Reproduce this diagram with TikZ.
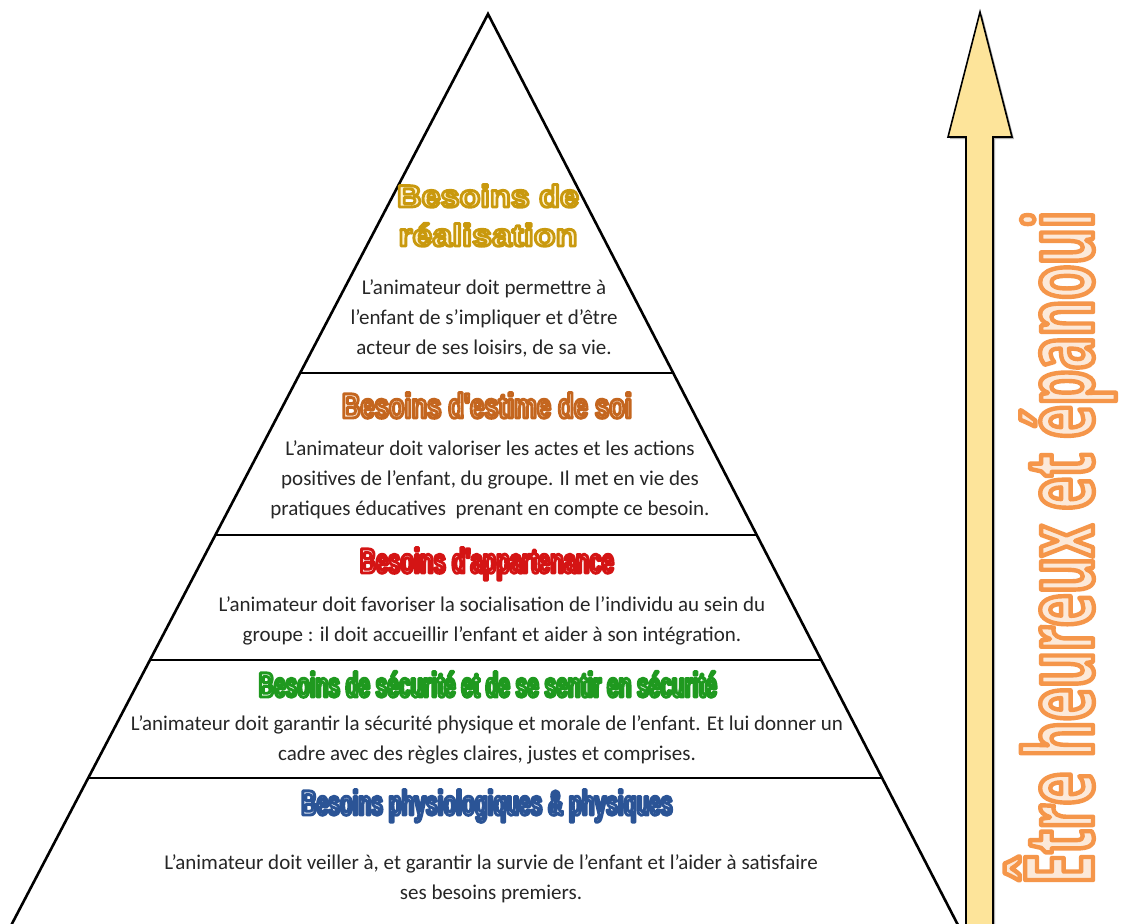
\documentclass[tikz,border=0pt]{standalone}
\usepackage{fontspec}
\setmainfont{Carlito}
\newfontfamily\titlefont{Liberation Sans}
\newfontfamily\vfont{Open Sans}
\usetikzlibrary{calc}
\definecolor{goldF}{HTML}{FFF3CF}
\definecolor{brownF}{HTML}{FBE6D3}
\definecolor{redF}{HTML}{FDE0E0}
\definecolor{greenF}{HTML}{E2F4E2}
\definecolor{blueF}{HTML}{E1E9F6}
\definecolor{vF}{HTML}{FCE9D9}
\definecolor{arrowF}{HTML}{FDE49A}
\definecolor{bodygray}{HTML}{262626}
% condense the current font so that the text is #1 wide
\newcommand\fitw[2]{\setbox0\hbox{#2}\pgfmathsetmacro\sfac{(#1)/\the\wd0}%
  \edef\tmp{\noexpand\addfontfeatures{FakeStretch=\sfac}}\tmp #2}
% outlined text: #1 stroke width, #2 stroke rgb, #3 fill colour, #4 width, #5 text
\newcommand\otext[5]{\begingroup\color{#3}%
  \special{pdf:literal direct 2 Tr #1 w 1 j #2 RG}\fitw{#4}{#5}%
  \special{pdf:literal direct 0 Tr}\endgroup}
\tikzset{
  body/.style={font=\fontsize{21}{30}\selectfont, text=bodygray, align=center, inner sep=0pt},
  title/.style={font=\titlefont\bfseries\fontsize{35}{35}\selectfont, anchor=base, inner sep=0pt},
  sep/.style={draw=black, line width=2.6pt},
  pyr/.style={draw=black, line width=2.6pt, line join=miter},
  arrowshape/.style={draw=black, line width=1.6pt, fill=arrowF, line join=miter},
}
\begin{document}
\begin{tikzpicture}[x=1pt,y=-1pt]
\useasboundingbox (0,0) rectangle (1123,923);
\clip (0,0) rectangle (1123,923);
\fill[white] (0,0) rectangle (1123,923);
\coordinate (apex) at (488,14);
\coordinate (bl) at (-7,960);
\coordinate (br) at (976,960);
\draw[pyr] (bl) -- (apex) -- (br);
\foreach \t in {0.3795,0.5507,0.6829,0.8076}{
  \draw[sep] ($(apex)!\t!(bl)$) -- ($(apex)!\t!(br)$);
}
% arrow
\fill[black!30] (968,962) -- (968,139) -- (950,139) -- (982,14) -- (1014,139) -- (995,139) -- (995,962) -- cycle;
\draw[arrowshape] (966,960) -- (966,137) -- (948,137) -- (980,12) -- (1012,137) -- (993,137) -- (993,960) -- cycle;
% vertical text
\node[rotate=90, anchor=base, inner sep=0pt] (vt) at (1093,548)
  {\vfont\bfseries\fontsize{95}{95}\selectfont\otext{4.4}{0.96 0.59 0.29}{vF}{674pt}{Être heureux et épanoui}};
% titles
\node[title, font=\titlefont\bfseries\fontsize{31}{31}\selectfont] (h1a) at (488,207) {\otext{2.9}{0.79 0.6 0.055}{goldF}{182pt}{Besoins de}};
\node[title, font=\titlefont\bfseries\fontsize{31}{31}\selectfont] (h1b) at (488,246) {\otext{2.9}{0.79 0.6 0.055}{goldF}{179pt}{réalisation}};
\node[title] (h2) at (487,418) {\otext{2.9}{0.77 0.40 0.12}{brownF}{290pt}{Besoins d'estime de soi}};
\node[title] (h3) at (487,573) {\otext{2.9}{0.83 0.08 0.08}{redF}{254pt}{Besoins d'appartenance}};
\node[title] (h4) at (488,697) {\otext{2.9}{0.12 0.60 0.12}{greenF}{458pt}{Besoins de sécurité et de se sentir en sécurité}};
\node[title] (h5) at (487,815) {\otext{2.9}{0.17 0.33 0.59}{blueF}{371pt}{Besoins physiologiques \& physiques}};
% body texts
\node[body] (t1) at (484,318) {L’animateur doit permettre à\\l’enfant de s’impliquer et d’être\\acteur de ses loisirs, de sa vie.};
\node[body] (t2) at (490,480) {L’animateur doit valoriser les actes et les actions\\positives de l’enfant, du groupe. Il met en vie des\\pratiques éducatives\ \ prenant en compte ce besoin.};
\node[body] (t3) at (492,621) {L’animateur doit favoriser la socialisation de l’individu au sein du\\groupe : il doit accueillir l’enfant et aider à son intégration.};
\node[body] (t4) at (487,740) {L’animateur doit garantir la sécurité physique et morale de l’enfant. Et lui donner un\\cadre avec des règles claires, justes et comprises.};
\node[body] (t5) at (491,879) {L’animateur doit veiller à, et garantir la survie de l’enfant et l’aider à satisfaire\\ses besoins premiers.};
\end{tikzpicture}
\end{document}
